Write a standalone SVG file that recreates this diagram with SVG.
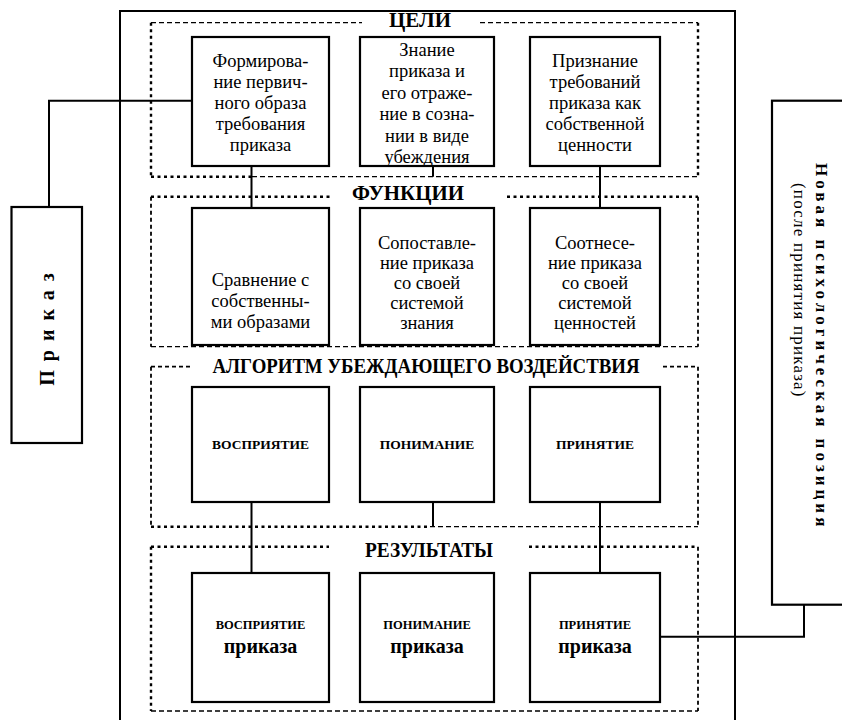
<svg xmlns="http://www.w3.org/2000/svg" width="842" height="720" viewBox="0 0 842 720">
<style>
text{font-family:"Liberation Serif","DejaVu Serif","Times New Roman",serif;fill:#000}
.t{font-size:18.5px;text-anchor:middle}
.h{font-size:20px;font-weight:bold;text-anchor:middle}
.s{font-size:13.5px;font-weight:bold;text-anchor:middle}
.s2{font-size:12.5px;font-weight:bold;text-anchor:middle}
.b{font-size:20px;font-weight:bold;text-anchor:middle}
.box{fill:#fff;stroke:#000;stroke-width:2.2}
.ln{fill:none;stroke:#000;stroke-width:2}
.dt{fill:none;stroke:#000;stroke-width:2.4;stroke-dasharray:3 3.5}
.ds{fill:none;stroke:#000;stroke-width:1.3;stroke-dasharray:5 3}
.dm{fill:none;stroke:#000;stroke-width:1.8;stroke-dasharray:4 3}
</style>
<rect width="842" height="720" fill="#fff"/>
<g id="frame"><path class="ln" d="M120,722 V11 H735 V722"/></g>
<g id="groups">
  <g id="g-celi">
    <path class="ds" d="M151,22.7 H362 M480,22.7 H698"/>
    <path class="dt" d="M151,22.7 V176.7 M698,22.7 V176.7 M151,176.7 H252"/>
    <path class="ds" d="M252,176.7 H698"/>
    <text class="h" x="420" y="27" textLength="62" lengthAdjust="spacingAndGlyphs">ЦЕЛИ</text>
  </g>
  <g id="g-func">
    <path class="dt" d="M151,196.7 H333 M507,196.7 H698"/>
    <path class="dm" d="M151,196.7 V346.7 M698,196.7 V346.7"/>
    <path class="ds" d="M151,346.7 H698"/>
    <text class="h" x="408" y="200" textLength="112" lengthAdjust="spacingAndGlyphs">ФУНКЦИИ</text>
  </g>
  <g id="g-alg">
    <path class="dm" d="M151,366.7 H190 M663,366.7 H698 M151,366.7 V526.7 M698,366.7 V526.7"/>
    <path class="dt" d="M151,526.7 H430"/>
    <path class="ds" d="M430,526.7 H698"/>
    <text class="h" x="426" y="373" textLength="427" lengthAdjust="spacingAndGlyphs">АЛГОРИТМ УБЕЖДАЮЩЕГО ВОЗДЕЙСТВИЯ</text>
  </g>
  <g id="g-res">
    <path class="dt" d="M151,546.7 H329 M529,546.7 H698 M151,546.7 V711"/>
    <path class="dm" d="M698,546.7 V711"/>
    <path class="ds" d="M151,711 H698"/>
    <text class="h" x="429" y="557" textLength="128" lengthAdjust="spacingAndGlyphs">РЕЗУЛЬТАТЫ</text>
  </g>
</g>
<g id="connectors">
  <path class="ln" d="M49,207 V100.7 H192"/>
  <path class="ln" d="M251.5,166 V208 M433,166 V176.7 M600,166 V208"/>
  <path class="ln" d="M251.5,345 V346.7 M433,345 V346.7 M600,345 V346.7"/>
  <path class="ln" d="M251.5,502 V573 M433,502 V526.7 M600,502 V573"/>
  <path class="ln" d="M660,636.7 H804 V605"/>
</g>
<g id="prikaz">
  <rect class="box" x="11.5" y="207" width="70.5" height="236"/>
  <text transform="translate(54,325) rotate(-90)" style="font-size:20px;font-weight:bold;text-anchor:middle;letter-spacing:9px">Приказ</text>
</g>
<g id="novaya">
  <rect class="box" x="772" y="100.7" width="80" height="504"/>
  <text transform="translate(816,163) rotate(90)" style="font-size:17px;font-weight:bold;letter-spacing:4px">Новая психологическая позиция</text>
  <text transform="translate(794,183) rotate(90)" style="font-size:17px;letter-spacing:1.2px">(после принятия приказа)</text>
</g>
<g id="c1">
  <rect class="box" x="192" y="37" width="137" height="129"/>
  <text class="t" x="260.5" y="67">Формирова-</text>
  <text class="t" x="260.5" y="88">ние первич-</text>
  <text class="t" x="260.5" y="109">ного образа</text>
  <text class="t" x="260.5" y="130">требования</text>
  <text class="t" x="260.5" y="151">приказа</text>
</g>
<g id="c2">
  <rect class="box" x="360" y="37" width="134" height="129"/>
  <text class="t" x="427" y="56">Знание</text>
  <text class="t" x="427" y="77">приказа и</text>
  <text class="t" x="427" y="98.5">его отраже-</text>
  <text class="t" x="427" y="120">ние в созна-</text>
  <text class="t" x="427" y="141.5">нии в виде</text>
  <text class="t" x="427" y="163">убеждения</text>
</g>
<g id="c3">
  <rect class="box" x="530" y="37" width="130" height="129"/>
  <text class="t" x="595" y="67">Признание</text>
  <text class="t" x="595" y="88">требований</text>
  <text class="t" x="595" y="109">приказа как</text>
  <text class="t" x="595" y="130">собственной</text>
  <text class="t" x="595" y="151">ценности</text>
</g>
<g id="f1">
  <rect class="box" x="192" y="208" width="137" height="137"/>
  <text class="t" x="260.5" y="286">Сравнение с</text>
  <text class="t" x="260.5" y="307">собственны-</text>
  <text class="t" x="260.5" y="328">ми образами</text>
</g>
<g id="f2">
  <rect class="box" x="360" y="208" width="134" height="137"/>
  <text class="t" x="427" y="249">Сопоставле-</text>
  <text class="t" x="427" y="269">ние приказа</text>
  <text class="t" x="427" y="289">со своей</text>
  <text class="t" x="427" y="309">системой</text>
  <text class="t" x="427" y="329">знания</text>
</g>
<g id="f3">
  <rect class="box" x="530" y="208" width="130" height="137"/>
  <text class="t" x="595" y="249">Соотнесе-</text>
  <text class="t" x="595" y="269">ние приказа</text>
  <text class="t" x="595" y="289">со своей</text>
  <text class="t" x="595" y="309">системой</text>
  <text class="t" x="595" y="329">ценностей</text>
</g>
<g id="a1">
  <rect class="box" x="192" y="387" width="137" height="115"/>
  <text class="s" x="260.5" y="449">ВОСПРИЯТИЕ</text>
</g>
<g id="a2">
  <rect class="box" x="360" y="387" width="134" height="115"/>
  <text class="s" x="427" y="449">ПОНИМАНИЕ</text>
</g>
<g id="a3">
  <rect class="box" x="530" y="387" width="130" height="115"/>
  <text class="s" x="595" y="449">ПРИНЯТИЕ</text>
</g>
<g id="r1">
  <rect class="box" x="192" y="573" width="137" height="129"/>
  <text class="s2" x="260.5" y="629">ВОСПРИЯТИЕ</text>
  <text class="b" x="260.5" y="653">приказа</text>
</g>
<g id="r2">
  <rect class="box" x="360" y="573" width="134" height="129"/>
  <text class="s2" x="427" y="629">ПОНИМАНИЕ</text>
  <text class="b" x="427" y="653">приказа</text>
</g>
<g id="r3">
  <rect class="box" x="530" y="573" width="130" height="129"/>
  <text class="s2" x="595" y="629">ПРИНЯТИЕ</text>
  <text class="b" x="595" y="653">приказа</text>
</g>
</svg>
